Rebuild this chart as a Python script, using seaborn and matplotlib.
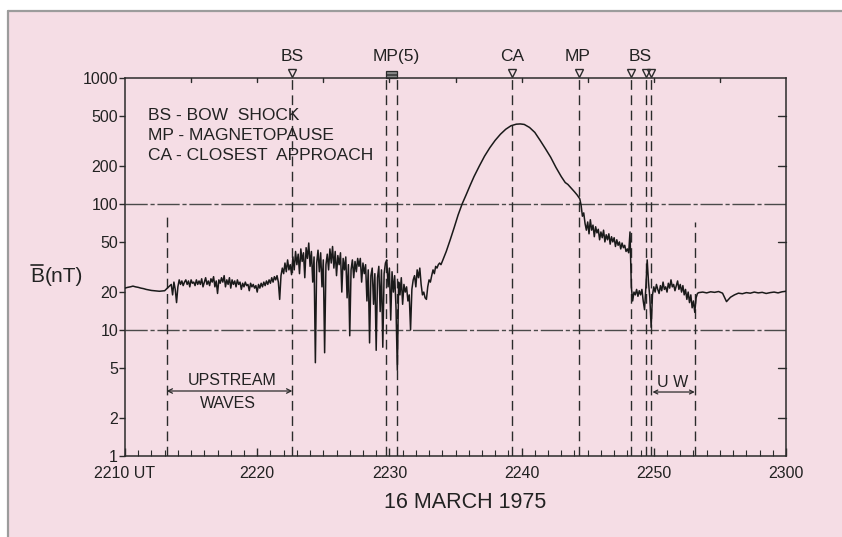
import numpy as np
import matplotlib
matplotlib.use("Agg")
import matplotlib.pyplot as plt
import seaborn as sns
import pandas as pd
from matplotlib.patches import Rectangle
from matplotlib.lines import Line2D
import matplotlib.transforms as mtransforms

# ---------------- data (minutes after 2210 UT, field in nT) ----------------
tick_minutes = [0, 10, 20, 30, 40, 50]
tick_labels = ["2210 UT", "2220", "2230", "2240", "2250", "2300"]
y_ticks = [1, 2, 5, 10, 20, 50, 100, 200, 500, 1000]
y_tick_labels = ["1", "2", "5", "10", "20", "50", "100", "200", "500", "1000"]

t_quiet = [0.0, 0.2, 0.4, 0.6, 0.8, 1.0, 1.2, 1.4, 1.6, 1.8, 2.0, 2.2, 2.4, 2.6, 2.8, 3.0, 3.2, 3.4]
b_quiet = [21.5, 21.8, 22.0, 22.3, 22.0, 21.8, 21.5, 21.3, 21.0, 20.8, 20.6, 20.5, 20.4, 20.3, 20.4, 20.5, 21.5, 22.5]

upstream_start, upstream_step = 3.5, 0.1
b_upstream = [23, 19, 24, 21, 16.5, 22, 25, 23, 24.5, 22.5, 24, 25, 23, 24.5, 22, 25, 23.5, 24, 22.5, 25,
              23, 24.5, 23, 25.5, 22, 24, 26, 23, 24.5, 22.5, 25.5, 24, 26.5, 22, 24.5, 19.5, 25, 23.5, 26, 24,
              27, 22, 25, 23, 26, 21.5, 25, 23, 24.5, 22, 25, 23, 24, 21, 23.5, 22, 24, 22.5, 23, 20.5,
              23.5, 22, 23, 21.5, 22.5, 20, 23, 21.5, 23.5, 22, 24, 22.5, 24.5, 23, 25, 23.5, 26, 24, 26.5, 25,
              27, 24, 17.5, 27, 31, 28, 34, 29, 36, 30, 33, 27.5]

sheath_in_start, sheath_in_step = 12.7, 0.1
b_sheath_in = [38, 30, 42, 33, 40, 28, 44, 35, 41, 26, 45, 37, 49, 32, 42, 24, 38, 5.5, 34, 43,
               29, 41, 22, 36, 6.6, 33, 40, 30, 44, 34, 46, 31, 42, 27, 39, 33, 41, 20, 37, 30,
               38, 18, 33, 9.0, 30, 36, 26, 35, 29, 37, 32, 37, 24, 34, 28, 33, 17, 30, 7.9, 27,
               31, 16, 28, 6.9, 26, 32, 14, 30, 7.3, 28, 34, 36, 22, 31, 12, 29, 20, 27, 15, 4.8,
               24, 19, 26, 16, 23, 20, 22, 17, 19, 10, 21, 25, 27, 22, 30, 26, 31, 23, 19, 20,
               18, 17.5, 22, 25, 24, 27, 30, 28, 32, 31, 33, 34, 33, 35]

t_sphere = [24.3, 24.6, 24.9, 25.2, 25.5, 25.8, 26.1, 26.4, 26.8, 27.2, 27.6, 28.0, 28.4, 28.8, 29.2,
            29.6, 29.9, 30.2, 30.6, 31.0, 31.4, 31.8, 32.2, 32.6, 33.0, 33.3, 33.5, 33.8, 34.0, 34.2, 34.4]
b_sphere = [42, 52, 65, 82, 100, 118, 140, 165, 200, 240, 280, 320, 358, 392, 418,
            430, 432, 428, 405, 370, 320, 275, 235, 195, 165, 148, 143, 132, 125, 118, 110]

sheath_out_start, sheath_out_step = 34.5, 0.1
b_sheath_out = [98, 80, 85, 70, 62, 72, 58, 75, 62, 68, 55, 66, 59, 63, 52, 60, 54, 62, 50, 57,
                52, 58, 48, 55, 50, 54, 46, 52, 47, 50, 44, 49, 45, 47, 42, 44, 41, 60, 22, 17]

downstream_start, downstream_step = 38.5, 0.1
b_downstream = [20, 19, 21, 18.5, 20.5, 19, 21, 17, 14.5, 22, 36, 24, 18, 10.5, 19, 22, 20, 23, 21, 19.5,
                22.5, 20.5, 24, 21, 22, 20, 23.5, 21.5, 25, 22, 23, 20.5, 22.5, 24.5, 21, 23, 20, 22.5, 19, 21,
                17.5, 20, 16.5, 19, 15, 17, 13.8, 18, 19.5]

t_tail = [43.4, 43.7, 44.0, 44.3, 44.6, 44.9, 45.2, 45.5, 45.8, 46.1, 46.4, 46.7, 47.0, 47.3, 47.6,
          47.9, 48.2, 48.5, 48.8, 49.1, 49.4, 49.7, 50.0]
b_tail = [19.8, 20.0, 19.7, 20.1, 19.9, 20.2, 19.6, 16.8, 18.2, 19.0, 19.6, 19.4, 19.8, 19.6, 20.0,
          19.7, 19.9, 19.5, 19.8, 20.0, 19.7, 20.1, 20.3]

# boundary crossings (minutes after 2210)
full_lines = [12.66, 19.74, 20.6, 29.3, 34.35, 38.3, 39.4, 39.8]
partial_lines = [(3.15, 85.0), (43.1, 72.0)]
triangles = [12.66, 29.3, 34.35, 38.3, 39.4, 39.8]
mp5_box = (19.74, 20.6)
top_labels = [("BS", 12.66), ("MP(5)", 20.5), ("CA", 29.3), ("MP", 34.2), ("BS", 39.0)]
legend_lines = ["BS - BOW  SHOCK", "MP - MAGNETOPAUSE", "CA - CLOSEST  APPROACH"]
upstream_span = (3.15, 12.66)
uw_span = (39.9, 43.1)

# ---------------- assemble ----------------
def seg(start, step, vals):
    return list(start + step * np.arange(len(vals)))

times = (t_quiet + seg(upstream_start, upstream_step, b_upstream)
         + seg(sheath_in_start, sheath_in_step, b_sheath_in) + t_sphere
         + seg(sheath_out_start, sheath_out_step, b_sheath_out)
         + seg(downstream_start, downstream_step, b_downstream) + t_tail)
field = b_quiet + b_upstream + b_sheath_in + b_sphere + b_sheath_out + b_downstream + b_tail
df = pd.DataFrame({"t": times, "B": field})

# ---------------- figure ----------------
sns.set_theme(style="ticks")
plt.rcParams["font.family"] = ["Liberation Sans", "DejaVu Sans"]

W, H = 842, 537
fig = plt.figure(figsize=(W / 100, H / 100), dpi=100, facecolor="white")
pink = "#f5dde5"
fig.patches.append(Rectangle((8 / W, 0), 1 - 8 / W, 1 - 11 / H, transform=fig.transFigure,
                             facecolor=pink, edgecolor="none", zorder=-20))
fig.lines.append(Line2D([8 / W, 1], [1 - 11 / H, 1 - 11 / H], transform=fig.transFigure,
                        color="#9c9c9c", lw=1.6, zorder=-10))
fig.lines.append(Line2D([8 / W, 8 / W], [0, 1 - 11 / H], transform=fig.transFigure,
                        color="#9c9c9c", lw=1.6, zorder=-10))

ax = fig.add_axes([125 / W, 1 - 456 / H, 661 / W, 378 / H])
ax.set_zorder(5)
ax.set_facecolor("none")
ink = "#2b2b2b"
txtc = "#222222"

ax.set_yscale("log")
ax.set_ylim(1, 1000)
ax.set_xlim(0, 50)

# horizontal reference lines
for yv in (10, 100):
    ax.axhline(yv, color="#4a4a4a", lw=1.0, ls=(0, (16, 2, 3, 2)), zorder=1)

# vertical dashed lines
for xv in full_lines:
    ax.plot([xv, xv], [1, 1000], color=ink, lw=1.0, ls=(0, (7, 4)), zorder=1)
for xv, ytop in partial_lines:
    ax.plot([xv, xv], [1, ytop], color=ink, lw=1.0, ls=(0, (7, 4)), zorder=1)

sns.lineplot(data=df, x="t", y="B", ax=ax, color="#1a1a1a", lw=1.1,
             estimator=None, sort=False, zorder=3)

# axes styling
for s in ax.spines.values():
    s.set_color(ink)
    s.set_linewidth(1.1)
ax.set_yticks(y_ticks)
ax.set_yticklabels(y_tick_labels)
ax.yaxis.set_minor_locator(matplotlib.ticker.NullLocator())
ax.tick_params(axis="y", which="major", direction="out", length=4, width=1, color=ink,
               labelsize=11.5, pad=1, labelcolor=txtc, right=False)
ax.set_xticks(tick_minutes)
ax.set_xticklabels(tick_labels)
ax.set_xticks(np.arange(0, 51, 1), minor=True)
ax.tick_params(axis="x", which="major", direction="in", length=6, width=1, color=ink,
               labelsize=11.5, pad=7.5, labelcolor=txtc, top=False)
ax.tick_params(axis="x", which="minor", direction="in", length=4, width=0.8, color=ink, top=False)
ax.set_xlabel("")
ax.set_ylabel("")

# right-side inward ticks and top 5-min ticks
trans_right = mtransforms.blended_transform_factory(ax.transAxes, ax.transData)
for yv in (2, 5, 50, 200, 500):
    ax.plot([0.988, 1.0], [yv, yv], transform=trans_right, color=ink, lw=1, clip_on=False)
trans_top = mtransforms.blended_transform_factory(ax.transData, ax.transAxes)
for xv in range(5, 50, 5):
    ax.plot([xv, xv], [1.0, 0.99], transform=trans_top, color=ink, lw=1, clip_on=False)

# top markers
ax.plot(triangles, [1.014] * len(triangles), transform=trans_top, ls="none", marker="v",
        markersize=5.5, markerfacecolor="none", markeredgecolor=ink, markeredgewidth=1.0, clip_on=False)
ax.add_patch(Rectangle((mp5_box[0], 1.0), mp5_box[1] - mp5_box[0], 0.018, transform=trans_top,
                       facecolor="#888888", edgecolor=ink, lw=0.9, clip_on=False, hatch="---"))
for txt, xv in top_labels:
    ax.text(xv, 1.036, txt, transform=trans_top, ha="center", va="bottom", fontsize=12.5, color=txtc)

# legend text block (one line per entry, ~20 px apart)
for i, line in enumerate(legend_lines):
    ypx = 115 + 20 * i
    ax.text((148 - 125) / 661, (456 - ypx) / 378, line, transform=ax.transAxes,
            ha="left", va="center", fontsize=12.5, color=txtc)

# upstream waves annotation
ax.annotate("", xy=(upstream_span[0], 3.28), xytext=(upstream_span[1], 3.28),
            arrowprops=dict(arrowstyle="<->", lw=0.9, color=ink, shrinkA=0, shrinkB=0, mutation_scale=8))
ax.text(8.1, 4.0, "UPSTREAM", ha="center", va="center", fontsize=11.5, color=txtc)
ax.text(7.8, 2.63, "WAVES", ha="center", va="center", fontsize=11.5, color=txtc)
ax.annotate("", xy=(uw_span[0], 3.22), xytext=(uw_span[1], 3.22),
            arrowprops=dict(arrowstyle="<->", lw=0.9, color=ink, shrinkA=0, shrinkB=0, mutation_scale=7))
ax.text(41.45, 3.85, "U W", ha="center", va="center", fontsize=11.5, color=txtc)

# x title
fig.text(465 / W, 1 - 502 / H, "16 MARCH 1975", ha="center", va="center", fontsize=15.5, color=txtc)

# y label: B with overbar
tb = fig.text(30 / W, 1 - 276 / H, "B", ha="left", va="center", fontsize=15, color=txtc)
fig.canvas.draw()
bb = tb.get_window_extent()
fig.text(bb.x1 / W + 1 / W, 1 - 276 / H, "(nT)", ha="left", va="center", fontsize=15, color=txtc)
fig.lines.append(Line2D([bb.x0 / W + 1 / W, bb.x1 / W - 1 / W], [(bb.y1 + 2) / H, (bb.y1 + 2) / H],
                        transform=fig.transFigure, color=txtc, lw=1.2))

fig.savefig("out.png", dpi=100, facecolor="white")
